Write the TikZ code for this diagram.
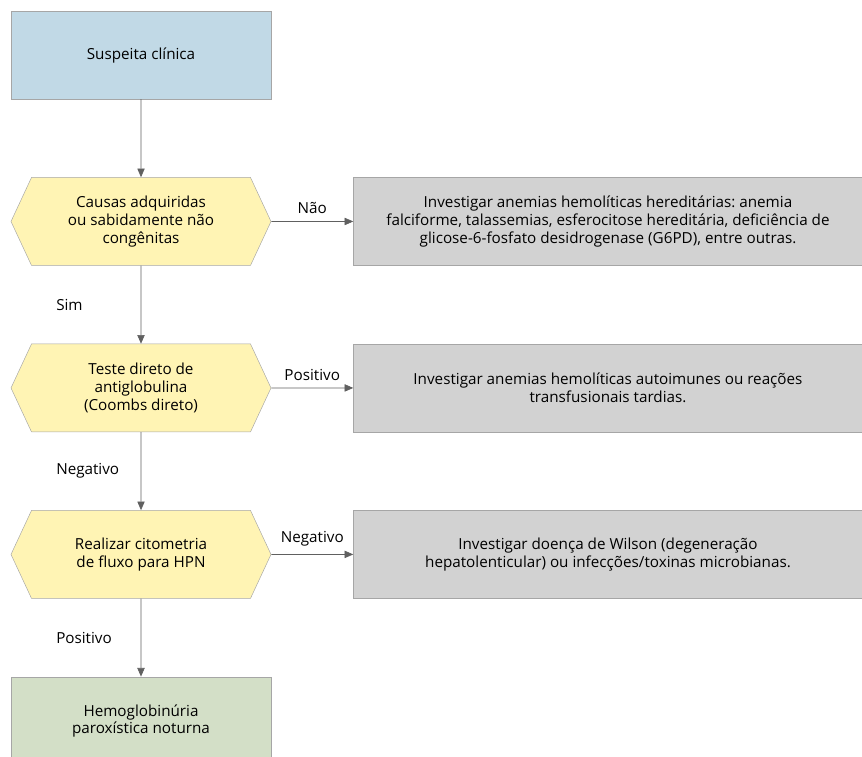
\documentclass[tikz,border=0pt]{standalone}
\usepackage{fontspec}
\setmainfont{Open Sans}
\usepackage{xcolor}
\usetikzlibrary{arrows.meta, positioning, shapes.symbols}
\frenchspacing

\definecolor{startblue}{HTML}{C1D9E6}
\definecolor{askyellow}{HTML}{FFF4B4}
\definecolor{outgray}{HTML}{D2D2D2}
\definecolor{endgreen}{HTML}{D3DFC7}
\definecolor{edgegray}{HTML}{A6A6A6}
\definecolor{linegray}{HTML}{606060}

\begin{document}
\begin{tikzpicture}[
    box/.style={
        rectangle,
        draw=edgegray,
        minimum width=7.8cm,
        minimum height=2.64cm,
        align=center,
        font=\fontsize{13}{15}\selectfont
    },
    question/.style={
        signal,
        signal to=west and east,
        signal pointer angle=130,
        draw=edgegray,
        fill=askyellow,
        minimum width=7.8cm,
        minimum height=2.64cm,
        inner xsep=0pt,
        align=center,
        font=\fontsize{13}{15}\selectfont
    },
    outbox/.style={
        rectangle,
        draw=edgegray,
        fill=outgray,
        minimum width=15.27cm,
        minimum height=2.64cm,
        align=center,
        font=\fontsize{13}{15}\selectfont
    },
    arrow/.style={-{Triangle[length=2.6mm, width=2.2mm]}, linegray, semithick},
    tag/.style={font=\fontsize{13}{15}\selectfont, text=black},
    node distance=2.34cm and 2.46cm
]

\useasboundingbox (0,0) rectangle (25.86,-22.68);

\node[box, fill=startblue] (suspeita) at (4.23,-1.65) {Suspeita clínica};

\node[question, below=of suspeita] (causas) {Causas adquiridas\\ou sabidamente não\\congênitas};
\node[outbox, right=of causas] (hereditarias) {
    Investigar anemias hemolíticas hereditárias: anemia\\
    falciforme, talassemias, esferocitose hereditária, deficiência de\\
    glicose-6-fosfato desidrogenase (G6PD), entre outras.
};

\node[question, below=of causas] (coombs) {Teste direto de\\antiglobulina\\(Coombs direto)};
\node[outbox, right=of coombs] (autoimunes) {
    Investigar anemias hemolíticas autoimunes ou reações\\
    transfusionais tardias.
};

\node[question, below=of coombs] (citometria) {Realizar citometria\\de fluxo para HPN};
\node[outbox, right=of citometria] (wilson) {
    Investigar doença de Wilson (degeneração\\
    hepatolenticular) ou infecções/toxinas microbianas.
};

\node[box, fill=endgreen, below=of citometria] (hpn) {Hemoglobinúria\\paroxística noturna};

\draw[arrow] (suspeita) -- (causas);
\draw[arrow] (causas) -- node[tag, midway, anchor=west, xshift=-2.67cm] {Sim} (coombs);
\draw[arrow] (coombs) -- node[tag, midway, anchor=west, xshift=-2.67cm] {Negativo} (citometria);
\draw[arrow] (citometria) -- node[tag, midway, anchor=west, xshift=-2.67cm] {Positivo} (hpn);

\draw[arrow] (causas) -- node[tag, midway, above=3pt] {Não} (hereditarias);
\draw[arrow] (coombs) -- node[tag, midway, above=3pt] {Positivo} (autoimunes);
\draw[arrow] (citometria) -- node[tag, midway, above=3pt] {Negativo} (wilson);

\end{tikzpicture}
\end{document}
